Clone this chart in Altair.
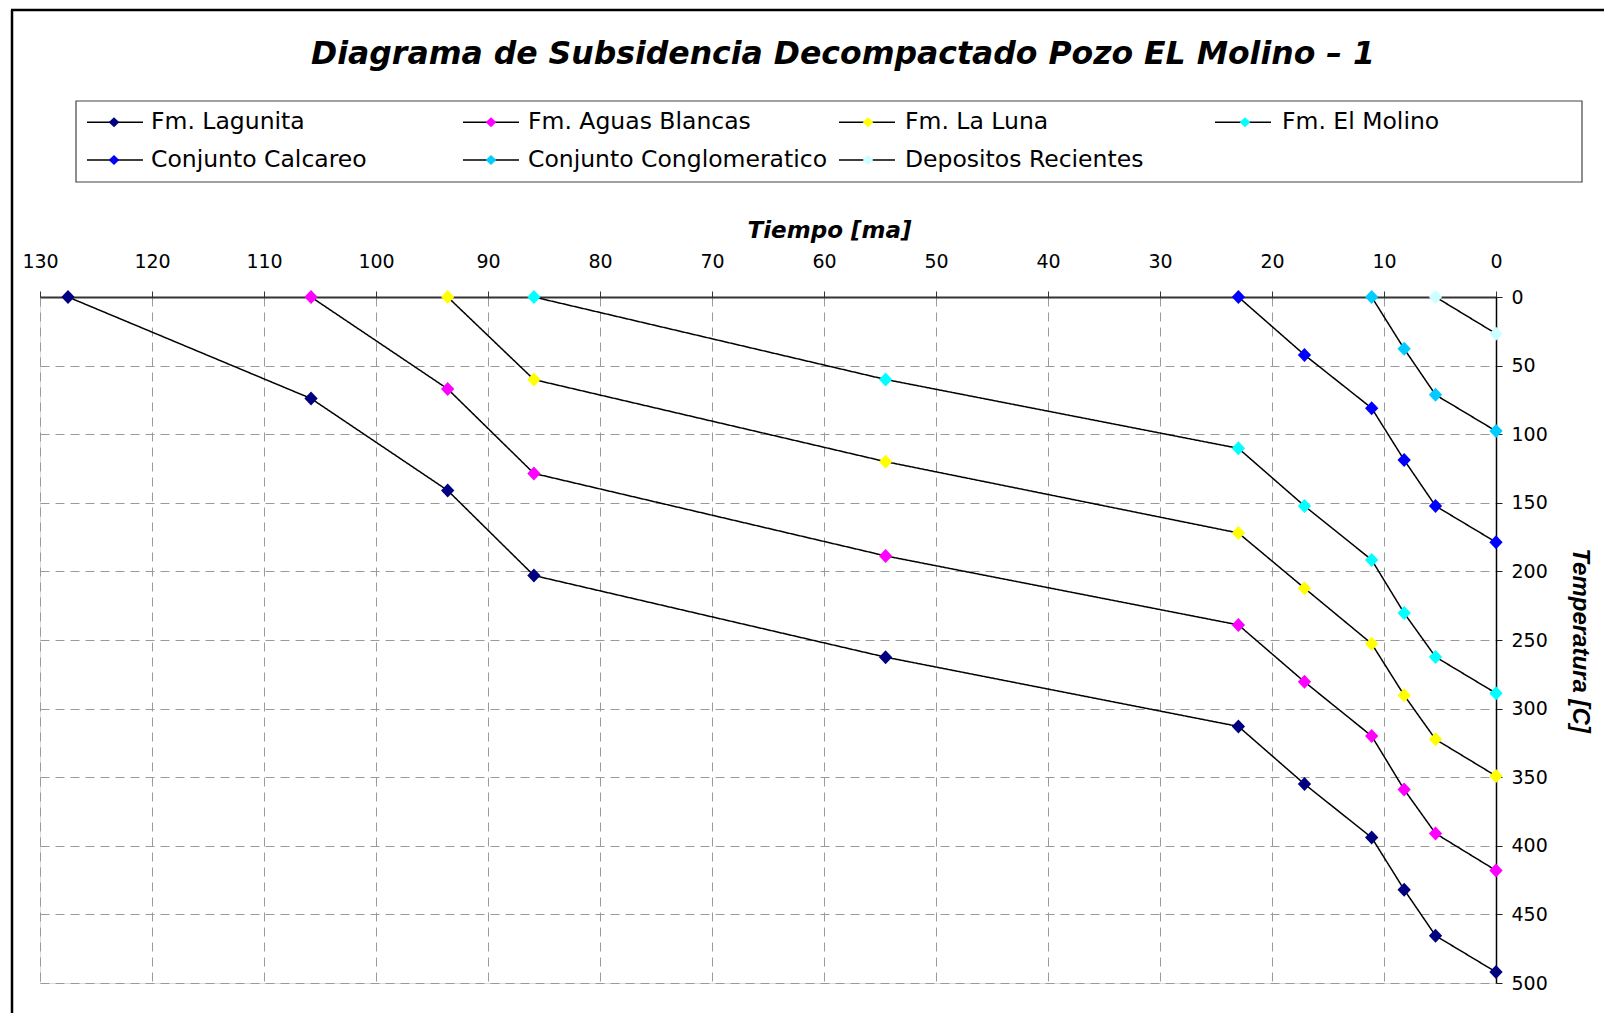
import altair as alt
import pandas as pd

# ---------------- data ----------------
series = ["Fm. Lagunita", "Fm. Aguas Blancas", "Fm. La Luna", "Fm. El Molino",
          "Conjunto Calcareo", "Conjunto Conglomeratico", "Depositos Recientes"]
colors = ["#000080", "#FF00FF", "#FFFF00", "#00FFFF", "#0000FF", "#00CCFF", "#CCFFFF"]

# ages (ma) of the burial steps, oldest first
edad = [127.5, 105.8, 93.6, 85.9, 54.5, 23.0, 17.1, 11.1, 8.2, 5.4, 0.0]

lagunita = [0, 74, 141, 203, 262.5, 313, 355, 394, 432, 465.5, 492]
aguas_blancas = [0, 67, 128.6, 188.7, 239, 280.5, 320, 359, 391, 418]
la_luna = [0, 60.2, 120, 172, 212.2, 252.7, 290.3, 322.4, 349.1]
el_molino = [0, 60.1, 110.3, 152.3, 191.6, 230.4, 262.3, 288.8]
calcareo = [0, 42.2, 81, 118.8, 152.3, 178.7]
conglomeratico = [0, 37.8, 71.3, 97.7]
recientes = [0, 26.7]

x_ticks = [0, 10, 20, 30, 40, 50, 60, 70, 80, 90, 100, 110, 120, 130]
y_ticks = [0, 50, 100, 150, 200, 250, 300, 350, 400, 450, 500]

values = [lagunita, aguas_blancas, la_luna, el_molino, calcareo, conglomeratico, recientes]
rows = []
for name, vals in zip(series, values):
    ages = edad[-len(vals):]
    for a, v in zip(ages, vals):
        rows.append({"Serie": name, "Edad": a, "Temp": v})
df = pd.DataFrame(rows)
frame_df = pd.DataFrame({"k": [0]})

# ---------------- styling ----------------
FONT = "DejaVu Sans"
DIAMOND = "M0,-1L0.95,0L0,1L-0.95,0Z"
LEG_DIAMOND = "M0,-0.18L0.19,0L0,0.18L-0.19,0Z"
LEG_LINE = "M-1,0H1"

W, H = 1456, 686
COL_STEP = 374      # distance between legend columns
SYM_W = 56          # legend symbol width
LABEL_OFF = 9
LEG_X, LEG_Y = 36, -196

x_enc = alt.X(
    "Edad:Q",
    scale=alt.Scale(domain=[0, 130], reverse=True, nice=False, zero=False),
    axis=alt.Axis(
        orient="top", values=x_ticks, format="d", labelFlush=False,
        labelFont=FONT, labelFontSize=19, labelColor="black", labelPadding=20,
        tickSize=6, tickColor="#333333", domainColor="#333333", domainWidth=2,
        grid=True, gridColor="#9a9a9a", gridDash=[9, 6], gridWidth=1,
        title="Tiempo [ma]", titleFont=FONT, titleFontSize=23,
        titleFontWeight="bold", titleFontStyle="italic", titleColor="black",
        titleX=789, titleY=-60, titleAlign="center", titleBaseline="alphabetic",
        titleAngle=0,
    ),
)
y_enc = alt.Y(
    "Temp:Q",
    scale=alt.Scale(domain=[0, 500], reverse=True, nice=False),
    axis=alt.Axis(
        orient="right", values=y_ticks, format="d", labelFlush=False,
        labelFont=FONT, labelFontSize=19, labelColor="black", labelPadding=9,
        labelAlign="left", tickSize=6, tickColor="#222222",
        domainColor="black", domainWidth=1.5,
        grid=True, gridColor="#9a9a9a", gridDash=[9, 6], gridWidth=1,
        title="Temperatura [C]", titleFont="Liberation Sans", titleFontSize=24,
        titleFontWeight="bold", titleFontStyle="italic", titleColor="black",
        titleAngle=90, titleX=83, titleY=H / 2, titleAlign="center",
        titleBaseline="middle",
    ),
)

leg_common = dict(
    orient="none", legendX=LEG_X, legendY=LEG_Y, columns=4, direction="horizontal",
    gridAlign="all", rowPadding=14, padding=10, title=None,
    labelFont=FONT, labelFontSize=23.5, labelColor="black", labelOffset=LABEL_OFF,
    labelLimit=500, symbolSize=SYM_W * SYM_W, clipHeight=22,
)

# colored diamonds + labels
points = alt.Chart(df).mark_point(
    shape=DIAMOND, filled=True, size=196, opacity=1
).encode(
    x=x_enc,
    y=y_enc,
    color=alt.Color(
        "Serie:N",
        scale=alt.Scale(domain=series, range=colors),
        legend=alt.Legend(
            symbolType=LEG_DIAMOND, symbolStrokeWidth=0, symbolOpacity=1,
            columnPadding=12, **leg_common,
        ),
    ),
)

# black connecting lines; their legend draws the line part of each key
lines = alt.Chart(df).mark_line(color="black", strokeWidth=1.5).encode(
    x=x_enc,
    y=y_enc,
    strokeDash=alt.StrokeDash(
        "Serie:N", sort=series,
        scale=alt.Scale(range=[[1, 0]] * 7),
        legend=alt.Legend(
            symbolType=LEG_LINE, symbolStrokeColor="black", symbolStrokeWidth=1.5,
            labelExpr="''", columnPadding=COL_STEP - SYM_W - LABEL_OFF,
            **leg_common,
        ),
    ),
)

# legend frame and chart-area frame
legend_box = alt.Chart(frame_df).mark_rect(
    fill="white", stroke="#444444", strokeWidth=1.2
).encode(
    x=alt.value(LEG_X), x2=alt.value(1542), y=alt.value(LEG_Y), y2=alt.value(-115)
)
frame_left = alt.Chart(frame_df).mark_rule(color="black", strokeWidth=2.5).encode(
    x=alt.value(-28), y=alt.value(-287), y2=alt.value(H + 30)
)
frame_top = alt.Chart(frame_df).mark_rule(color="black", strokeWidth=2.5).encode(
    x=alt.value(-29), x2=alt.value(W + 108), y=alt.value(-287)
)

chart = alt.layer(frame_left, frame_top, legend_box, lines, points).properties(
    width=W,
    height=H,
    padding={"left": 32, "top": 289, "right": 108, "bottom": 30},
    autosize=alt.AutoSizeParams(type="none"),
    title=alt.TitleParams(
        text="Diagrama de Subsidencia Decompactado Pozo EL Molino – 1",
        font=FONT, fontSize=31.5, fontWeight="bold", fontStyle="italic",
        color="black", anchor="middle", frame="group", dx=75, offset=0, dy=94,
        baseline="bottom",
    ),
).configure_view(stroke="#808080", strokeWidth=2).configure(background="white")

chart.save("out.html", embed_options={"renderer": "svg", "actions": False})
